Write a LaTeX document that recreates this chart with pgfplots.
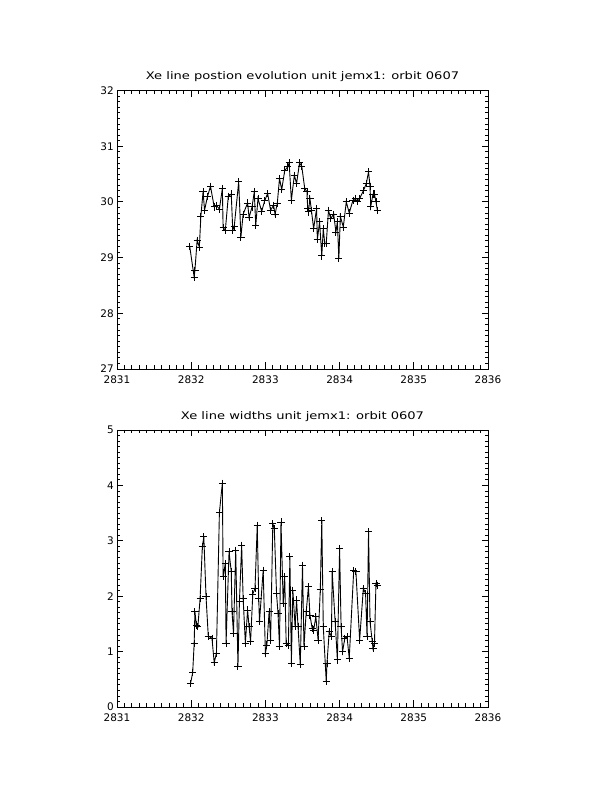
\documentclass[border=0pt]{standalone}
\usepackage{pgfplots}
\pgfplotsset{compat=1.18}
\usepackage{fontspec}
\setmainfont{DejaVu Sans}
\newfontfamily\widefont[FakeStretch=1.25]{DejaVu Sans}
\begin{document}
\begin{tikzpicture}
\pgfplotsset{
  idl/.style={
    scale only axis, width=371bp, anchor=south west,
    xmin=2831, xmax=2836, xtick={2831,2832,2833,2834,2835,2836},
    minor x tick num=9, minor y tick num=9,
    tick align=inside, major tick length=6.5bp, minor tick length=3.5bp,
    axis line style={line width=0.9bp}, every tick/.style={line width=0.8bp, black},
    /pgf/number format/assume math mode=true,
    /pgf/number format/1000 sep={},
    ticklabel style={font=\fontsize{10.5}{12}\selectfont},
    xticklabel style={anchor=north, inner sep=0pt, yshift=-7bp},
    yticklabel style={anchor=east, inner sep=0pt, xshift=-3bp},
    title style={at={(0.5,1)}, anchor=base, yshift=5bp, inner sep=0pt, font=\widefont\fontsize{10.5}{12}\selectfont},
  },
  pl/.style={black, line width=0.9bp, mark=+, mark size=3.6bp, mark options={line width=0.9bp, solid}},
}
\path[use as bounding box] (0,0) rectangle (612bp,792bp);
\begin{axis}[idl, at={(117bp,423bp)}, height=278.5bp,
  ymin=27, ymax=32, ytick={27,28,29,30,31,32},
  title={Xe line postion evolution unit jemx1: orbit 0607}]
\addplot[pl] coordinates {
(2831.98,29.20) (2832.04,28.65) (2832.05,28.77) (2832.08,29.31) (2832.11,29.19)
(2832.13,29.74) (2832.16,30.18) (2832.18,29.85) (2832.22,30.10) (2832.26,30.28)
(2832.31,29.91) (2832.34,29.94) (2832.38,29.87) (2832.42,30.24) (2832.43,29.54)
(2832.46,29.49) (2832.50,30.10) (2832.54,30.14) (2832.56,29.49) (2832.58,29.56)
(2832.64,30.36) (2832.67,29.37) (2832.70,29.78) (2832.76,29.98) (2832.78,29.72)
(2832.82,29.91) (2832.85,30.18) (2832.87,29.58) (2832.90,30.06) (2832.95,29.83)
(2832.99,30.02) (2833.03,30.15) (2833.07,29.85) (2833.11,29.94) (2833.13,29.78)
(2833.16,29.97) (2833.19,30.42) (2833.22,30.22) (2833.26,30.56) (2833.30,30.63)
(2833.32,30.70) (2833.35,30.03) (2833.39,30.48) (2833.42,30.33) (2833.46,30.70)
(2833.49,30.64) (2833.53,30.24) (2833.56,30.18) (2833.57,29.88) (2833.58,29.82)
(2833.60,30.06) (2833.62,29.85) (2833.65,29.52) (2833.69,29.88) (2833.70,29.32)
(2833.73,29.64) (2833.76,29.03) (2833.78,29.52) (2833.80,29.25) (2833.82,29.25)
(2833.85,29.85) (2833.88,29.70) (2833.92,29.78) (2833.95,29.46) (2833.97,29.64)
(2833.99,28.98) (2834.01,29.74) (2834.05,29.55) (2834.09,30.00) (2834.13,29.80)
(2834.18,30.03) (2834.21,30.06) (2834.24,30.00) (2834.27,30.06) (2834.32,30.20)
(2834.36,30.33) (2834.39,30.54) (2834.41,30.28) (2834.42,29.92) (2834.45,30.14)
(2834.47,30.14) (2834.49,30.00) (2834.51,29.84)
};
\end{axis}
\begin{axis}[idl, at={(117bp,85bp)}, height=277bp,
  ymin=0, ymax=5, ytick={0,1,2,3,4,5},
  title={Xe line widths unit jemx1: orbit 0607}]
\addplot[pl] coordinates {
(2831.99,0.42) (2832.02,0.62) (2832.04,1.15) (2832.05,1.72) (2832.07,1.48)
(2832.09,1.45) (2832.12,1.96) (2832.15,2.89) (2832.17,3.07) (2832.20,1.99)
(2832.23,1.28) (2832.28,1.24) (2832.31,0.80) (2832.34,0.97) (2832.38,3.51)
(2832.42,4.04) (2832.43,2.36) (2832.46,2.59) (2832.47,1.15) (2832.51,2.80)
(2832.54,2.44) (2832.55,1.72) (2832.57,1.33) (2832.60,2.83) (2832.63,0.73)
(2832.65,1.90) (2832.68,2.92) (2832.70,1.96) (2832.73,1.15) (2832.76,1.75)
(2832.78,1.45) (2832.80,1.18) (2832.83,2.04) (2832.86,2.14) (2832.89,3.28)
(2832.91,1.96) (2832.92,1.54) (2832.97,2.47) (2833.00,0.97) (2833.02,1.12)
(2833.05,1.72) (2833.07,1.21) (2833.10,3.31) (2833.12,3.22) (2833.15,2.05)
(2833.17,1.69) (2833.19,1.09) (2833.21,3.34) (2833.24,1.87) (2833.26,2.35)
(2833.28,1.15) (2833.31,1.12) (2833.33,2.71) (2833.35,0.79) (2833.37,2.11)
(2833.40,1.45) (2833.42,1.93) (2833.44,1.45) (2833.47,0.76) (2833.50,2.56)
(2833.52,1.09) (2833.55,1.72) (2833.58,2.17) (2833.60,1.66) (2833.63,1.42)
(2833.65,1.39) (2833.68,1.63) (2833.71,1.21) (2833.74,2.12) (2833.76,3.36)
(2833.78,1.45) (2833.82,0.46) (2833.83,0.79) (2833.86,1.36) (2833.89,1.27)
(2833.90,2.44) (2833.94,1.54) (2833.97,0.85) (2834.00,2.86) (2834.02,1.45)
(2834.04,1.00) (2834.07,1.24) (2834.10,1.27) (2834.13,0.88) (2834.19,2.46)
(2834.22,2.44) (2834.27,1.21) (2834.32,2.14) (2834.35,2.05) (2834.37,1.27)
(2834.39,3.16) (2834.41,1.54) (2834.44,1.18) (2834.45,1.06) (2834.47,1.15)
(2834.49,2.23) (2834.51,2.20)
};
\end{axis}
\end{tikzpicture}
\end{document}
